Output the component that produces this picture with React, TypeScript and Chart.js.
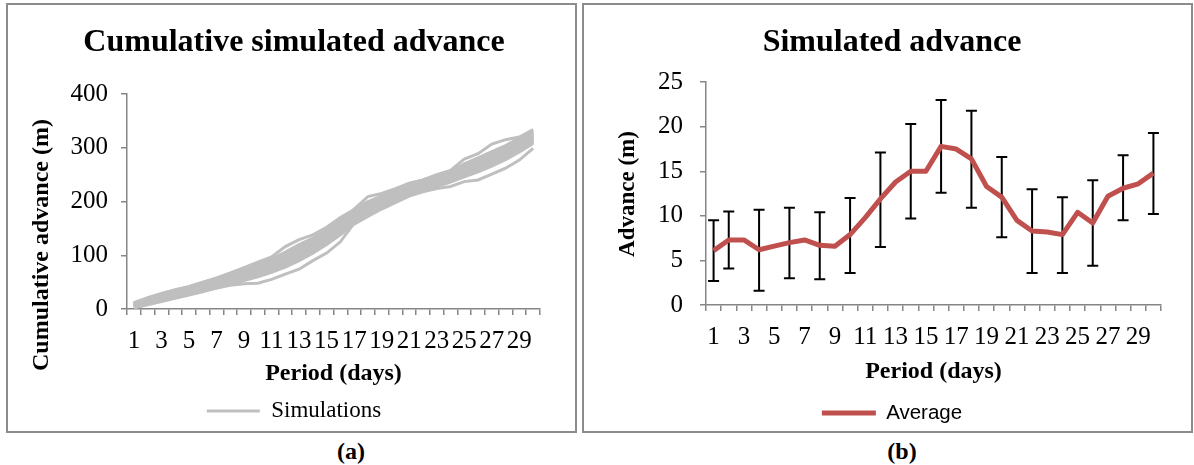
import React, { useEffect, useRef } from 'react';
import { Chart, registerables } from 'chart.js';

Chart.register(...registerables);

// ---------- data ----------
const days = ['1', '2', '3', '4', '5', '6', '7', '8', '9', '10', '11', '12', '13', '14', '15',
  '16', '17', '18', '19', '20', '21', '22', '23', '24', '25', '26', '27', '28', '29', '30'];

// (a) cumulative simulated advance (m), one array per simulation run
const simA = [12, 21, 29, 36, 42, 50, 58, 67, 77, 87, 97, 116, 129, 138, 152, 170, 185, 200, 210, 220, 230, 238, 246, 254, 266, 276, 288, 300, 314, 328];
const simB = [4, 10, 16, 22, 28, 34, 39, 44, 47, 48, 55, 65, 74, 90, 104, 125, 160, 178, 192, 206, 216, 224, 232, 240, 252, 262, 274, 287, 301, 316];
const simC = [8, 16, 24, 31, 38, 46, 54, 62, 70, 78, 88, 100, 113, 126, 142, 162, 186, 209, 215, 224, 234, 240, 248, 256, 268, 278, 290, 302, 316, 330];
const simD = [10, 18, 26, 33, 40, 48, 56, 64, 72, 80, 90, 102, 115, 128, 144, 164, 180, 196, 208, 220, 232, 240, 250, 258, 279, 289, 307, 315, 320, 334];
const simE = [2, 8, 14, 20, 26, 32, 39, 46, 53, 60, 68, 78, 90, 104, 120, 138, 158, 172, 186, 198, 210, 218, 224, 228, 237, 240, 251, 262, 277, 299];
const simF = [6, 13, 20, 27, 33, 40, 47, 54, 61, 68, 78, 90, 103, 118, 133, 151, 169, 185, 198, 210, 220, 228, 236, 244, 254, 264, 276, 289, 302, 317];
const simG = [9, 17, 25, 32, 39, 46, 54, 61, 68, 76, 86, 98, 111, 124, 139, 158, 176, 191, 204, 216, 227, 235, 243, 251, 262, 272, 284, 296, 310, 324];
const simH = [5, 11, 18, 24, 30, 37, 44, 50, 57, 64, 73, 84, 96, 110, 125, 144, 164, 180, 194, 206, 217, 225, 232, 240, 250, 259, 271, 283, 297, 312];
const simI = [7, 15, 22, 29, 36, 43, 50, 58, 65, 73, 83, 95, 108, 121, 136, 154, 172, 187, 200, 212, 222, 230, 238, 246, 257, 267, 279, 292, 306, 321];
const simJ = [3, 9, 16, 22, 29, 35, 42, 48, 55, 62, 71, 82, 94, 108, 123, 142, 162, 177, 190, 202, 213, 221, 228, 236, 246, 255, 266, 278, 292, 308];
const simK = [11, 20, 28, 35, 41, 49, 57, 65, 74, 83, 93, 106, 120, 132, 147, 166, 183, 198, 210, 222, 233, 239, 247, 255, 270, 281, 293, 304, 318, 332];
const simL = [6, 12, 19, 26, 32, 39, 46, 53, 60, 67, 76, 88, 101, 115, 130, 148, 167, 183, 196, 208, 219, 227, 235, 243, 252, 262, 273, 286, 300, 315];
const simM = [8, 14, 21, 28, 35, 41, 48, 55, 63, 70, 80, 92, 105, 119, 134, 152, 171, 186, 199, 211, 221, 229, 237, 245, 256, 266, 278, 291, 305, 319];
const simN = [5, 12, 19, 25, 31, 38, 45, 52, 59, 66, 75, 86, 99, 113, 128, 147, 166, 181, 195, 207, 217, 226, 233, 241, 251, 260, 272, 284, 298, 313];
const simO = [7, 14, 22, 29, 35, 43, 51, 58, 66, 75, 85, 97, 110, 124, 139, 157, 174, 189, 202, 214, 224, 233, 241, 249, 260, 270, 282, 295, 309, 323];
const simP = [4, 11, 17, 23, 30, 36, 43, 49, 56, 63, 72, 83, 95, 109, 124, 143, 163, 179, 193, 205, 215, 223, 231, 238, 248, 257, 268, 280, 294, 310];
const simQ = [10, 19, 27, 34, 40, 47, 55, 63, 71, 79, 89, 101, 114, 127, 143, 161, 178, 193, 206, 218, 229, 237, 245, 253, 264, 275, 287, 299, 312, 326];
const simR = [6, 13, 21, 27, 34, 41, 48, 56, 63, 71, 81, 93, 106, 120, 135, 153, 171, 185, 198, 210, 220, 229, 237, 245, 255, 265, 277, 290, 304, 318];
const simS = [9, 16, 23, 30, 37, 44, 52, 59, 67, 74, 84, 96, 109, 123, 137, 156, 173, 188, 201, 213, 223, 232, 240, 248, 259, 269, 281, 293, 307, 320];
const simT = [5, 12, 20, 26, 33, 39, 46, 53, 60, 68, 77, 89, 102, 116, 131, 150, 168, 183, 197, 209, 219, 227, 235, 243, 253, 263, 274, 287, 301, 316];
const simU = [8, 15, 23, 30, 37, 45, 53, 60, 68, 76, 86, 99, 112, 125, 140, 159, 177, 192, 205, 217, 227, 236, 244, 252, 263, 273, 285, 297, 311, 325];
const simV = [3, 10, 17, 23, 29, 36, 42, 49, 56, 63, 72, 83, 96, 111, 127, 146, 166, 182, 196, 208, 218, 226, 233, 240, 249, 258, 269, 281, 295, 311];
const simW = [11, 19, 26, 33, 40, 47, 55, 62, 70, 78, 88, 100, 112, 124, 138, 157, 176, 192, 205, 217, 228, 236, 245, 253, 266, 278, 291, 303, 316, 329];
const simX = [6, 14, 21, 28, 34, 41, 49, 56, 64, 72, 82, 94, 107, 121, 137, 155, 173, 187, 200, 212, 222, 231, 239, 247, 258, 268, 280, 292, 306, 320];
const simulations = [simA, simB, simC, simD, simE, simF, simG, simH, simI, simJ, simK, simL,
  simM, simN, simO, simP, simQ, simR, simS, simT, simU, simV, simW, simX];

// (b) average daily advance (m) with error bar limits
const average = [6.1, 7.3, 7.3, 6.2, 6.6, 7.0, 7.3, 6.7, 6.6, 7.9, 9.8, 11.9, 13.8, 15.0, 15.0, 17.8, 17.5, 16.4, 13.3, 12.1, 9.5, 8.3, 8.2, 7.9, 10.4, 9.2, 12.2, 13.1, 13.6, 14.8];
const errHigh = [9.5, 10.5, null, 10.7, null, 10.9, null, 10.4, null, 12.0, null, 17.1, null, 20.3, null, 23.0, null, 21.8, null, 16.6, null, 13.0, null, 12.1, null, 14.0, null, 16.8, null, 19.3];
const errLow = [2.7, 4.1, null, 1.6, null, 3.0, null, 2.9, null, 3.6, null, 6.5, null, 9.7, null, 12.6, null, 10.9, null, 7.6, null, 3.6, null, 3.6, null, 4.4, null, 9.5, null, 10.2];

// ---------- styles ----------
const SERIF = "'Liberation Serif', 'Times New Roman', serif";
const SANS = "'Liberation Sans', Arial, sans-serif";
const AXIS = '#868686';
const SIM_COLOR = '#BFBFBF';
const AVG_COLOR = '#C0504D';
const TICK_SIZE = 25;

function yTitlePlugin(text: string, x: number, y: number, size: number) {
  return {
    id: 'yTitleCustom',
    afterDraw(chart: any) {
      const ctx = chart.ctx;
      ctx.save();
      ctx.translate(x, y);
      ctx.rotate(-Math.PI / 2);
      ctx.font = `bold ${size}px ${SERIF}`;
      ctx.fillStyle = '#000';
      ctx.textAlign = 'center';
      ctx.textBaseline = 'middle';
      ctx.fillText(text, 0, 0);
      ctx.restore();
    },
  };
}

function errorBarPlugin(high: (number | null)[], low: (number | null)[]) {
  return {
    id: 'errorBarsCustom',
    beforeDatasetsDraw(chart: any) {
      const { ctx } = chart;
      const xs = chart.scales.x;
      const ys = chart.scales.y;
      const cap = 11;
      ctx.save();
      ctx.strokeStyle = '#000';
      ctx.lineWidth = 2;
      high.forEach((h, i) => {
        const l = low[i];
        if (h == null || l == null) return;
        const px = xs.getPixelForValue(i);
        const top = ys.getPixelForValue(h);
        const bot = ys.getPixelForValue(l);
        ctx.beginPath();
        ctx.moveTo(px, top);
        ctx.lineTo(px, bot);
        ctx.moveTo(px - cap / 2, top);
        ctx.lineTo(px + cap / 2, top);
        ctx.moveTo(px - cap / 2, bot);
        ctx.lineTo(px + cap / 2, bot);
        ctx.stroke();
      });
      ctx.restore();
    },
  };
}

function axisCommon(tickLen: number) {
  return {
    grid: { drawOnChartArea: false, drawTicks: true, tickLength: tickLen, color: AXIS, lineWidth: 1.5 },
    border: { display: true, color: AXIS, width: 1.5 },
  };
}

function xScale(padBottom: number, height: number) {
  return {
    type: 'category',
    offset: true,
    ...axisCommon(6),
    grid: { offset: true, drawOnChartArea: false, drawTicks: true, tickLength: 6, color: AXIS, lineWidth: 1.5 },
    ticks: {
      autoSkip: false,
      maxRotation: 0,
      minRotation: 0,
      padding: 11,
      color: '#000',
      font: { family: SERIF, size: TICK_SIZE },
      callback: (_v: any, i: number) => (i % 2 === 0 ? days[i] : ''),
    },
    title: {
      display: true,
      text: 'Period (days)',
      color: '#000',
      font: { family: SERIF, size: 24, weight: 'bold' },
      padding: { top: 0, bottom: padBottom },
    },
    afterFit: (s: any) => {
      s.height = height;
    },
  };
}

function LeftChart() {
  const ref = useRef<HTMLCanvasElement | null>(null);
  useEffect(() => {
    if (!ref.current) return;
    const chart = new Chart(ref.current, {
      type: 'line',
      data: {
        labels: days,
        datasets: simulations.map((s, i) => ({
          label: i === 0 ? 'Simulations' : `Simulation ${i + 1}`,
          data: s,
          borderColor: SIM_COLOR,
          backgroundColor: SIM_COLOR,
          borderWidth: 3,
          pointRadius: 0,
          tension: 0,
        })),
      },
      options: {
        responsive: false,
        animation: false,
        devicePixelRatio: 1,
        layout: { padding: { left: 40, right: 35, top: 0, bottom: 2.5 } },
        plugins: {
          title: {
            display: true,
            text: 'Cumulative simulated advance',
            color: '#000',
            font: { family: SERIF, size: 32, weight: 'bold' },
            padding: { top: 19, bottom: 31.6 },
          },
          legend: {
            position: 'bottom',
            labels: {
              filter: (item: any) => item.datasetIndex === 0,
              usePointStyle: true,
              pointStyle: 'line',
              pointStyleWidth: 53,
              color: '#000',
              font: { family: SERIF, size: 23 },
              padding: 10,
            },
          },
          tooltip: { enabled: false },
        },
        scales: {
          x: xScale(1.1, 80.5),
          y: {
            min: 0,
            max: 400,
            ...axisCommon(6),
            ticks: { stepSize: 100, padding: 13, color: '#000', font: { family: SERIF, size: TICK_SIZE } },
            afterFit: (s: any) => {
              s.width = 79;
            },
          },
        },
      } as any,
      plugins: [yTitlePlugin('Cumulative advance (m)', 34, 240, 24)],
    });
    return () => chart.destroy();
  }, []);
  return <canvas ref={ref} width={567} height={430} style={{ position: 'absolute', left: 8, top: 5 }} />;
}

function RightChart() {
  const ref = useRef<HTMLCanvasElement | null>(null);
  useEffect(() => {
    if (!ref.current) return;
    const chart = new Chart(ref.current, {
      type: 'line',
      data: {
        labels: days,
        datasets: [
          {
            label: 'Average',
            data: average,
            borderColor: AVG_COLOR,
            backgroundColor: AVG_COLOR,
            borderWidth: 5,
            pointRadius: 0,
            tension: 0,
            borderJoinStyle: 'round',
          },
        ],
      },
      options: {
        responsive: false,
        animation: false,
        devicePixelRatio: 1,
        layout: { padding: { left: 39, right: 30, top: 0, bottom: 1.75 } },
        plugins: {
          title: {
            display: true,
            text: 'Simulated advance',
            color: '#000',
            font: { family: SERIF, size: 32, weight: 'bold' },
            padding: { top: 19, bottom: 19.8 },
          },
          legend: {
            position: 'bottom',
            labels: {
              usePointStyle: true,
              pointStyle: 'line',
              pointStyleWidth: 54,
              color: '#000',
              font: { family: SANS, size: 20.5 },
              padding: 10,
            },
          },
          tooltip: { enabled: false },
        },
        scales: {
          x: xScale(6.35, 87.75),
          y: {
            min: 0,
            max: 25,
            ...axisCommon(6),
            ticks: { stepSize: 5, padding: 17, color: '#000', font: { family: SERIF, size: TICK_SIZE } },
            afterFit: (s: any) => {
              s.width = 83;
            },
          },
        },
      } as any,
      plugins: [errorBarPlugin(errHigh, errLow), yTitlePlugin('Advance (m)', 44, 189, 23)],
    });
    return () => chart.destroy();
  }, []);
  return <canvas ref={ref} width={607} height={430} style={{ position: 'absolute', left: 584, top: 5 }} />;
}

export default function App() {
  const panel = (left: number, width: number): React.CSSProperties => ({
    position: 'absolute',
    left,
    top: 3,
    width,
    height: 430,
    border: '2px solid #8c8c8c',
    boxSizing: 'border-box',
  });
  const caption = (cx: number): React.CSSProperties => ({
    position: 'absolute',
    left: cx - 30,
    top: 437,
    width: 60,
    textAlign: 'center',
    fontFamily: SERIF,
    fontWeight: 'bold',
    fontSize: 24,
    lineHeight: '28px',
    color: '#000',
  });
  return (
    <div style={{ position: 'absolute', left: 0, top: 0, width: 1194, height: 465, background: '#fff', overflow: 'hidden' }}>
      <div style={panel(6, 571)} />
      <div style={panel(582, 611)} />
      <LeftChart />
      <RightChart />
      <div style={caption(351)}>(a)</div>
      <div style={caption(902)}>(b)</div>
    </div>
  );
}
